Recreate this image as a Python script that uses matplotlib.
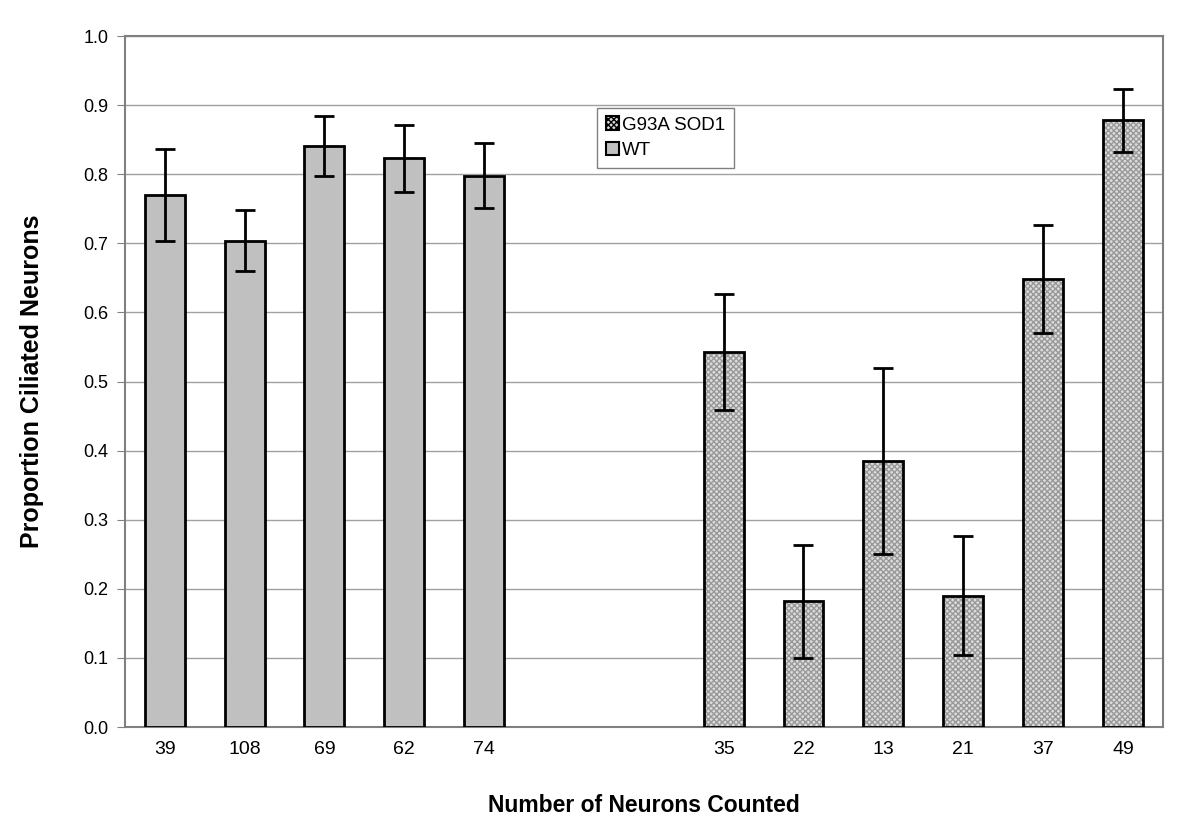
import matplotlib.pyplot as plt
import numpy as np
from matplotlib.patches import Patch

plt.rcParams['font.family'] = ['Liberation Sans', 'DejaVu Sans']

# data
wt_counts = ['39', '108', '69', '62', '74']
wt_values = [0.770, 0.704, 0.841, 0.823, 0.798]
wt_errors = [0.067, 0.044, 0.044, 0.048, 0.047]

mut_counts = ['35', '22', '13', '21', '37', '49']
mut_values = [0.543, 0.182, 0.385, 0.190, 0.649, 0.878]
mut_errors = [0.084, 0.082, 0.134, 0.086, 0.078, 0.046]

wt_x = np.arange(len(wt_counts))
mut_x = np.arange(len(mut_counts)) + len(wt_counts) + 2

fig = plt.figure(figsize=(12, 8.4), dpi=100)
ax = fig.add_axes([0.104, 0.1345, 0.865, 0.8225])

width = 0.5
ax.bar(wt_x, wt_values, width=width, color='#c0c0c0', edgecolor='black',
       linewidth=2, zorder=3)
ax.errorbar(wt_x, wt_values, yerr=wt_errors, fmt='none', ecolor='black',
            elinewidth=2, capsize=7, capthick=2, zorder=4)

# hatched bars: fill with hatch first, then black outline
ax.bar(mut_x, mut_values, width=width, color='#dcdcdc', edgecolor='#999999',
       hatch='xxxxxx', linewidth=0, zorder=3)
ax.bar(mut_x, mut_values, width=width, fill=False, edgecolor='black',
       linewidth=2, zorder=3)
ax.errorbar(mut_x, mut_values, yerr=mut_errors, fmt='none', ecolor='black',
            elinewidth=2, capsize=7, capthick=2, zorder=4)

ax.set_xlim(-0.5, mut_x[-1] + 0.5)
ax.set_ylim(0, 1.0)
ax.set_yticks(np.arange(0, 1.01, 0.1))
ax.set_yticklabels(['%.1f' % v for v in np.arange(0, 1.01, 0.1)], fontsize=13)
ax.set_xticks(list(wt_x) + list(mut_x))
ax.set_xticklabels(wt_counts + mut_counts, fontsize=14)
ax.tick_params(axis='x', length=0, pad=10)
ax.tick_params(axis='y', length=6, color='#808080', pad=6)
ax.yaxis.grid(True, color='#a0a0a0', linewidth=1, zorder=0)
ax.set_axisbelow(True)
for s in ax.spines.values():
    s.set_color('#808080')
    s.set_linewidth(1.5)

ax.set_xlabel('Number of Neurons Counted', fontsize=16.5, fontweight='bold',
              labelpad=26)
ax.set_ylabel('Proportion Ciliated Neurons', fontsize=18, fontweight='bold',
              labelpad=28)

handles = [Patch(facecolor='#dcdcdc', edgecolor='black', hatch='xxxxxx', linewidth=1.5),
           Patch(facecolor='#c0c0c0', edgecolor='black', linewidth=1.5)]
leg = ax.legend(handles, ['G93A SOD1', 'WT'], loc='upper left',
                bbox_to_anchor=(0.455, 0.896), fontsize=13.5, fancybox=False,
                framealpha=1, edgecolor='#808080', handlelength=0.7,
                handleheight=0.7, handletextpad=0.2, borderpad=0.45,
                labelspacing=0.45, borderaxespad=0)
leg.get_frame().set_linewidth(1)
leg.set_zorder(5)

plt.savefig('out.png', dpi=100)
